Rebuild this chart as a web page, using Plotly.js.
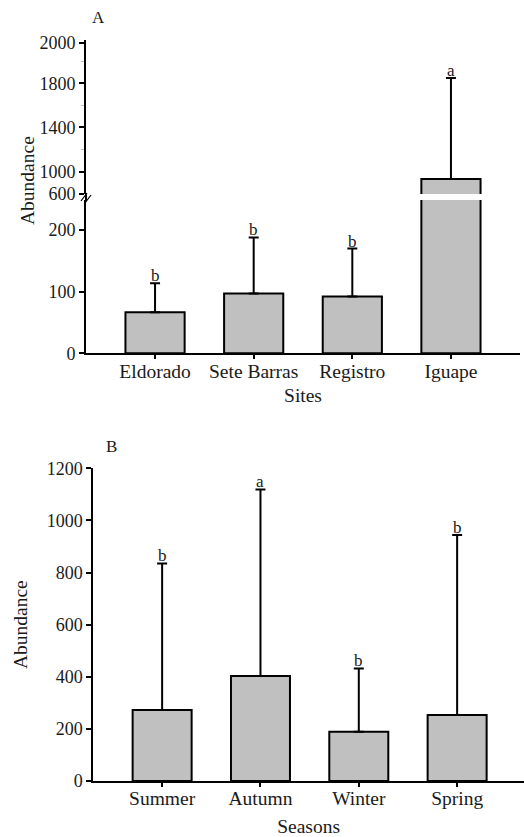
<!DOCTYPE html>
<html>
<head>
<meta charset="utf-8">
<script src="https://cdn.plot.ly/plotly-3.0.1.min.js"></script>
<style>html,body{margin:0;padding:0;background:#fff;}#chart{width:524px;height:837px;}</style>
</head>
<body>
<div id="chart"></div>
<script>
// ---- data ----
const sites = ['Eldorado', 'Sete Barras', 'Registro', 'Iguape'];
const siteMean = [66.5, 97, 92, 934];
const siteErr = [47, 91, 78, 914];
const siteLetters = ['b', 'b', 'b', 'a'];

const seasons = ['Summer', 'Autumn', 'Winter', 'Spring'];
const seasonMean = [272, 403, 189, 253];
const seasonErr = [563, 716, 243, 691];
const seasonLetters = ['b', 'a', 'b', 'b'];

// broken axis of panel A: lower part and upper part
const lowerTicks = [0, 100, 200];
const upperTickVals = [798, 1000, 1400, 1800, 2167];
const upperTickText = ['600', '1000', '1400', '1800', '2000'];
const upperMinorTicks = [1200, 1600, 1995];

// ---- layout helpers ----
const W = 524, H = 837;
const px = v => v / W;
const py = v => 1 - v / H;
const FONT = 'Liberation Serif, Times New Roman, serif';
const TXT = '#1a1a1a';

const barStyle = {color: '#c0c0c0', line: {color: '#000', width: 2}};
const errStyle = arr => ({type: 'data', symmetric: false, array: arr,
  arrayminus: arr.map(() => 0), color: '#000', thickness: 2, width: 5});

const traces = [
  {type: 'bar', x: sites, y: siteMean, xaxis: 'x', yaxis: 'y', width: 0.6,
   marker: barStyle, error_y: errStyle(siteErr), hoverinfo: 'x+y'},
  {type: 'bar', x: sites, y: siteMean, xaxis: 'x2', yaxis: 'y2', width: 0.6,
   marker: barStyle, error_y: errStyle(siteErr), hoverinfo: 'x+y'},
  {type: 'bar', x: seasons, y: seasonMean, xaxis: 'x3', yaxis: 'y3', width: 0.6,
   marker: barStyle, error_y: errStyle(seasonErr), hoverinfo: 'x+y'}
];

const lowerMax = 248.7;
const annotations = [];
sites.forEach((s, i) => {
  const top = siteMean[i] + siteErr[i];
  const upper = top > lowerMax;
  annotations.push({x: s, y: top, xref: upper ? 'x2' : 'x', yref: upper ? 'y2' : 'y',
    text: siteLetters[i], showarrow: false, xanchor: 'center', yanchor: 'bottom', yshift: -4,
    font: {family: FONT, size: 17, color: TXT}});
});
seasons.forEach((s, i) => {
  annotations.push({x: s, y: seasonMean[i] + seasonErr[i], xref: 'x3', yref: 'y3',
    text: seasonLetters[i], showarrow: false, xanchor: 'center', yanchor: 'bottom', yshift: -4,
    font: {family: FONT, size: 17, color: TXT}});
});
annotations.push(
  {x: px(98), y: py(17.5), xref: 'paper', yref: 'paper', text: 'A', showarrow: false,
   xanchor: 'center', yanchor: 'middle', font: {family: FONT, size: 17, color: TXT}},
  {x: px(111.5), y: py(446), xref: 'paper', yref: 'paper', text: 'B', showarrow: false,
   xanchor: 'center', yanchor: 'middle', font: {family: FONT, size: 17, color: TXT}},
  {x: px(28), y: py(181), xref: 'paper', yref: 'paper', text: 'Abundance', textangle: -90,
   xanchor: 'center', yanchor: 'middle',
   showarrow: false, font: {family: FONT, size: 19.5, color: TXT}}
);

const axisCommon = {showline: true, linecolor: '#000', linewidth: 2, ticks: 'outside',
  ticklen: 5, tickwidth: 2, tickcolor: '#000', showgrid: false, zeroline: false,
  tickfont: {family: FONT, size: 18, color: TXT}, fixedrange: true};
const xTickFont = {family: FONT, size: 19.5, color: TXT};
const titleFont = {family: FONT, size: 19.5, color: TXT};

const layout = {
  width: W, height: H, margin: {l: 0, r: 0, t: 0, b: 0},
  paper_bgcolor: '#fff', plot_bgcolor: '#fff', showlegend: false,
  font: {family: FONT, color: TXT},
  xaxis: Object.assign({}, axisCommon, {domain: [px(86), px(520)], anchor: 'y',
    range: [-0.7, 3.7], tickfont: xTickFont, ticklen: 4, ticklabelstandoff: -5,
    title: {text: 'Sites', font: titleFont, standoff: 8}}),
  yaxis: Object.assign({}, axisCommon, {domain: [py(353.3), py(200)], anchor: 'x',
    range: [0, lowerMax], tickmode: 'array', tickvals: lowerTicks}),
  xaxis2: {domain: [px(86), px(520)], anchor: 'y2', matches: 'x', visible: false, fixedrange: true},
  yaxis2: Object.assign({}, axisCommon, {domain: [py(194), py(40)], anchor: 'x2',
    range: [798, 2192], tickmode: 'array', tickvals: upperTickVals, ticktext: upperTickText,
    minor: {tickmode: 'array', tickvals: upperMinorTicks, ticks: 'outside', ticklen: 3,
      tickwidth: 1, tickcolor: '#b8c4cc'}}),
  xaxis3: Object.assign({}, axisCommon, {domain: [px(93.3), px(524)], anchor: 'y3',
    range: [-0.7, 3.68], tickfont: xTickFont, ticklen: 4, ticklabelstandoff: -5,
    title: {text: 'Seasons', font: titleFont, standoff: 14}}),
  yaxis3: Object.assign({}, axisCommon, {domain: [py(781), py(468.3)], anchor: 'x3',
    range: [0, 1200], dtick: 200,
    title: {text: 'Abundance', font: titleFont, standoff: 14}}),
  annotations: annotations,
  shapes: [
    // axis continuation across the break
    {type: 'line', xref: 'paper', yref: 'paper', x0: px(86), x1: px(86), y0: py(201), y1: py(193),
     line: {color: '#000', width: 2}},
    // break marks //
    {type: 'line', xref: 'paper', yref: 'paper', x0: px(81), x1: px(87), y0: py(201), y1: py(193),
     line: {color: '#000', width: 1.2}},
    {type: 'line', xref: 'paper', yref: 'paper', x0: px(85), x1: px(91), y0: py(203), y1: py(195),
     line: {color: '#000', width: 1.2}}
  ]
};

Plotly.newPlot('chart', traces, layout, {displayModeBar: false, staticPlot: true});
</script>
</body>
</html>
